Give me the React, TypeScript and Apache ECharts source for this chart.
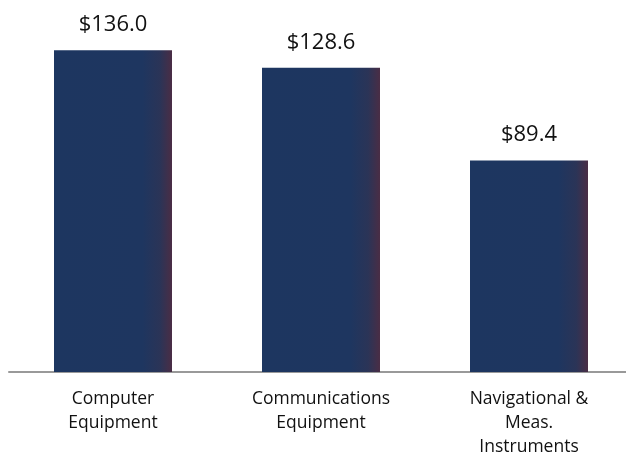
import React, { useEffect, useRef } from "react";
import * as echarts from "echarts";

const categories = ["Computer\nEquipment", "Communications\nEquipment", "Navigational &\nMeas.\nInstruments"];
const values = [136.0, 128.6, 89.4];

export default function App() {
  const ref = useRef<HTMLDivElement>(null);
  useEffect(() => {
    const chart = echarts.init(ref.current!, null, { renderer: "svg" });
    const barColor = new echarts.graphic.LinearGradient(0, 0, 1, 0, [
      { offset: 0, color: "#1d3660" },
      { offset: 0.75, color: "#1e3660" },
      { offset: 0.9, color: "#2b3457" },
      { offset: 1, color: "#4a2d45" },
    ]);
    chart.setOption({
      animation: false,
      grid: { left: 9, width: 624, top: 17, bottom: 89 },
      xAxis: {
        type: "category",
        data: categories,
        axisLine: { lineStyle: { color: "#999999", width: 2 } },
        axisTick: { show: false },
        axisLabel: {
          interval: 0,
          margin: 13,
          fontSize: 17.5,
          lineHeight: 24,
          color: "#111",
          fontFamily: "Open Sans",
        },
      },
      yAxis: { type: "value", min: 0, max: 150, show: false },
      series: [
        {
          type: "bar",
          data: values,
          barWidth: 118,
          itemStyle: { color: barColor },
          label: {
            show: true,
            position: "top",
            distance: 17,
            formatter: (p: any) => "$" + p.value.toFixed(1),
            fontSize: 22,
            color: "#111",
            fontFamily: "Open Sans",
          },
        },
      ],
    });
    return () => chart.dispose();
  }, []);
  return (
    <div style={{ position: "fixed", left: 0, top: 0, width: 626, height: 461, overflow: "hidden" }}>
      <div ref={ref} style={{ width: 660, height: 461 }} />
    </div>
  );
}
